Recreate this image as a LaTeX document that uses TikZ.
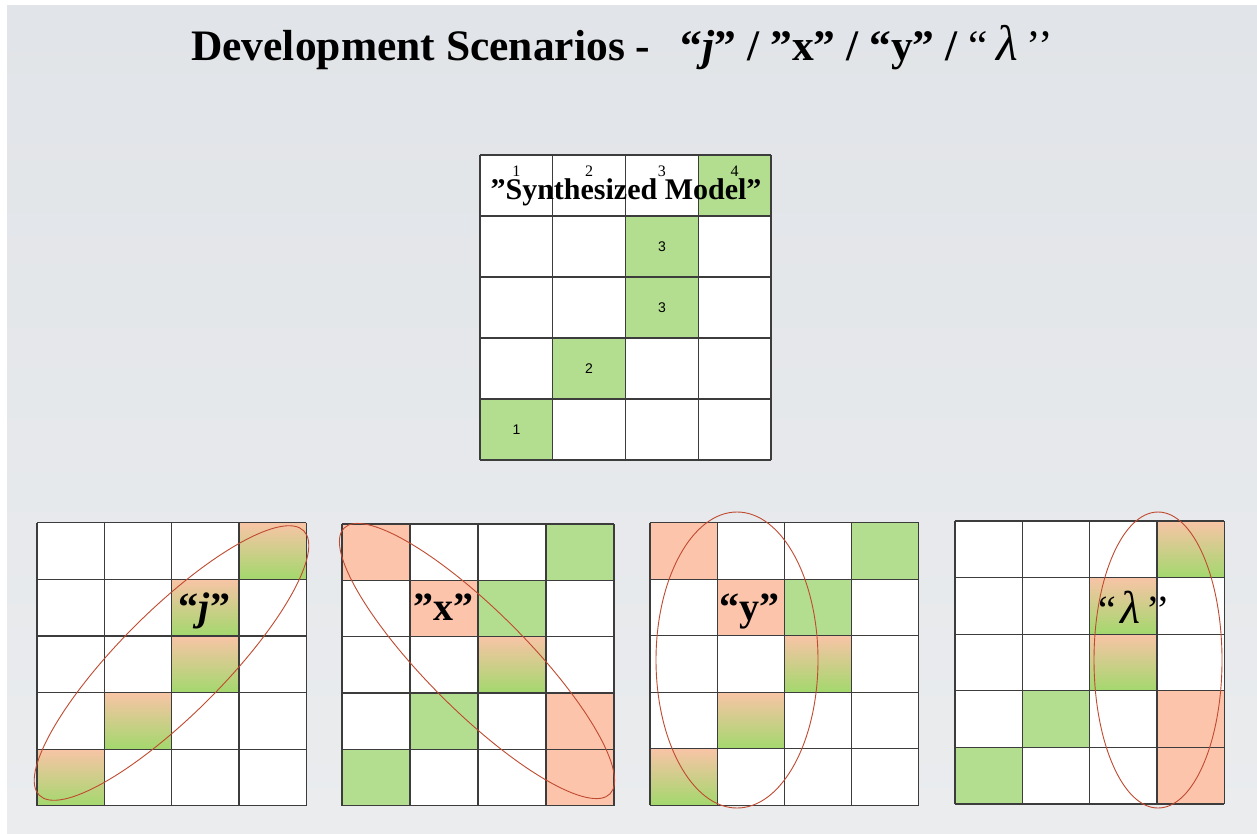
\documentclass[tikz,border=0pt]{standalone}
\usepackage{fontspec}
\setmainfont{Liberation Serif}
\newfontfamily\sansf{Liberation Sans}
\definecolor{bgA}{HTML}{E1E4E8}
\definecolor{bgB}{HTML}{EAECEE}
\definecolor{cgreen}{HTML}{B3DE8F}
\definecolor{csalmon}{HTML}{FDC4AC}
\definecolor{gtop}{HTML}{F8C4A6}
\definecolor{gbot}{HTML}{A3D86D}
\definecolor{gline}{HTML}{3C3C3C}
\definecolor{ellc}{HTML}{C04A30}
\tikzset{
  gcell/.style={fill=cgreen},
  scell/.style={fill=csalmon},
  mcell/.style={top color=gtop,bottom color=gbot},
  gridline/.style={draw=gline,line width=1.2pt},
  ellipseline/.style={draw=ellc,line width=0.9pt},
  biglabel/.style={font=\fontsize{40}{42}\selectfont\bfseries,inner sep=0pt,anchor=base},
  colnum/.style={font=\fontsize{16}{18}\selectfont,inner sep=0pt,anchor=base},
  cellnum/.style={font=\sansf\fontsize{14}{16}\selectfont,inner sep=0pt},
}
\newcommand\mygrid[5]{%
  \begin{scope}[shift={(#1,-#2)},x=#3pt,y=-#4pt]
    \fill[white] (0,0) rectangle (4,5);
    \foreach \c/\r/\s in {#5} { \path[\s] (\c-1,\r-1) rectangle (\c,\r); }
    \foreach \i in {0,...,4} \draw[gridline] (\i,0) -- (\i,5);
    \foreach \j in {0,...,5} \draw[gridline] (0,\j) -- (4,\j);
  \end{scope}}
\begin{document}
\begin{tikzpicture}[x=1pt,y=1pt]
  \useasboundingbox (0,0) rectangle (1257,-833);
  \fill[white] (0,0) rectangle (1257,-833);
  \shade[top color=bgA,bottom color=bgB] (7,-5) rectangle (1257,-833);

  % title
  \node[anchor=base west,inner sep=0pt,font=\fontsize{43.5}{48}\selectfont\bfseries] (title) at (191,-60)
    {Development Scenarios -\hspace{0.7em}“\textit{j}” / ”x” / “y” / {\mdseries“\hspace{0.2em}{\fontsize{50}{50}\selectfont\textit{λ}}\hspace{0.2em}’’}};

  % top grid
  \mygrid{480}{155}{72.75}{61}{4/1/gcell,3/2/gcell,3/3/gcell,2/4/gcell,1/5/gcell}
  \node[colnum] (c1) at (516.4,-176) {1};
  \node[colnum] (c2) at (589.1,-176) {2};
  \node[colnum] (c3) at (661.9,-176) {3};
  \node[colnum] (c4) at (734.6,-176) {4};
  \node[anchor=base,inner sep=0pt,font=\fontsize{30}{32}\selectfont\bfseries] (synth) at (626,-199) {”Synthesized Model”};
  \node[cellnum] (n3a) at (661.9,-246.5) {3};
  \node[cellnum] (n3b) at (661.9,-307.5) {3};
  \node[cellnum] (n2) at (589.1,-368.5) {2};
  \node[cellnum] (n1) at (516.4,-429.5) {1};

  % bottom grids
  \mygrid{37}{522.7}{67.3}{56.6}{4/1/mcell,3/2/mcell,3/3/mcell,2/4/mcell,1/5/mcell}
  \mygrid{342}{524}{68}{56.3}{1/1/scell,4/1/gcell,2/2/scell,3/2/gcell,3/3/mcell,2/4/gcell,4/4/scell,1/5/gcell,4/5/scell}
  \mygrid{650}{522.7}{67.2}{56.5}{1/1/scell,4/1/gcell,2/2/scell,3/2/gcell,3/3/mcell,2/4/mcell,1/5/mcell}
  \mygrid{955}{521}{67.3}{56.6}{4/1/mcell,3/2/mcell,3/3/mcell,2/4/gcell,4/4/scell,1/5/gcell,4/5/scell}

  % ellipses
  \draw[ellipseline,rotate around={45:(171.5,-663)}] (171.5,-663) ellipse (187pt and 52pt);
  \draw[ellipseline,rotate around={-45:(477,-661)}] (477,-661) ellipse (188pt and 50pt);
  \draw[ellipseline] (737,-660) ellipse (81pt and 148pt);
  \draw[ellipseline] (1158,-660) ellipse (64pt and 148pt);

  % labels
  \node[biglabel] (lj) at (204.5,-620) {“\textit{j}”};
  \node[biglabel] (lx) at (443.5,-620) {”x”};
  \node[biglabel] (ly) at (749.5,-620) {“y”};
  \node[biglabel,font=\fontsize{40}{42}\selectfont\mdseries] (ll) at (1134.5,-623) {“\hspace{0.1em}{\fontsize{46}{46}\selectfont\textit{λ}}\hspace{0.15em}’’};
\end{tikzpicture}
\end{document}
